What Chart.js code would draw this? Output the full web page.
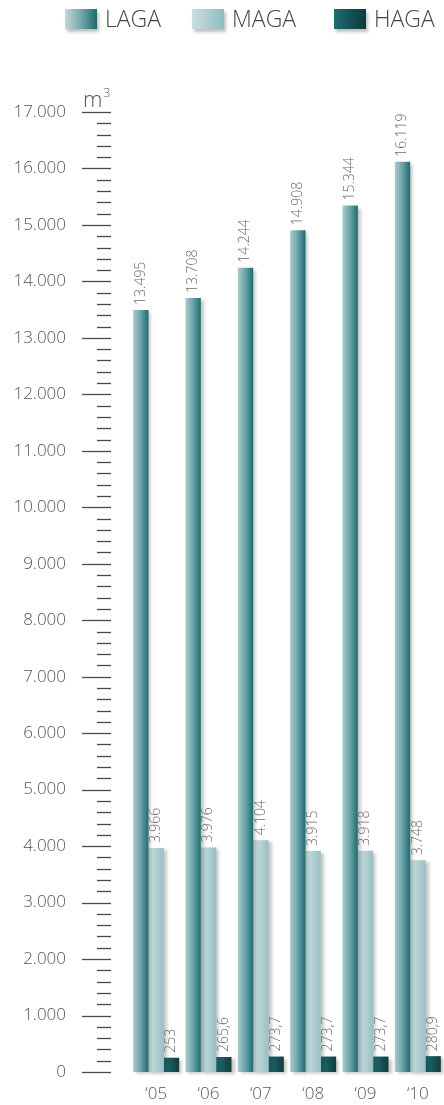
<!DOCTYPE html>
<html>

<head>
    <meta charset="utf-8">
    <title>LAGA MAGA HAGA</title>
    <style>
        body { margin: 0; background: #fff; }
        canvas { display: block; }
    </style>
</head>

<body>
    <canvas id="myChart1" width="444" height="1105"></canvas>
    <script src="https://cdn.jsdelivr.net/npm/chart.js@4.4.6/dist/chart.umd.min.js"></script>
    <script>
        const years = ["\u201805", "\u201806", "\u201807", "\u201808", "\u201809", "\u201810"]
        const laga = [13495, 13708, 14244, 14908, 15344, 16119]
        const maga = [3966, 3976, 4104, 3915, 3918, 3748]
        const haga = [253, 265.6, 273.7, 273.7, 273.7, 280.9]
        const seriesNames = ["LAGA", "MAGA", "HAGA"]
        const yMax = 17000
        const unitLabel = "m"

        document.addEventListener("DOMContentLoaded", () => {
            const FONT = "'Open Sans', 'DejaVu Sans', sans-serif"
            // gradient stops, left -> right
            const BAR_GRAD = [
                ["#a9cbcf", "#6aa3a8", "#1f6a6f"],
                ["#c9dee1", "#b3d0d3", "#97c0c4"],
                ["#1f7074", "#175559", "#113c3f"],
            ]
            const KEY_GRAD = [
                ["#c4d9dc", "#74a7ab", "#1d6a6e"],
                ["#cadee1", "#aecdd0", "#8fbcc1"],
                ["#1e6e72", "#175256", "#10393c"],
            ]

            function fmt(v) {
                const [i, d] = String(v).split(".")
                const s = i.replace(/\B(?=(\d{3})+(?!\d))/g, ".")
                return d ? s + "," + d : s
            }

            function hGrad(ctx, x0, x1, stops) {
                const g = ctx.createLinearGradient(x0, 0, x1, 0)
                stops.forEach((c, i) => g.addColorStop(i / (stops.length - 1), c))
                return g
            }

            // per bar gradient, worked out from the x scale
            function barFill(c) {
                const chart = c.chart
                const xs = chart.scales.x
                if (!chart.chartArea || !xs) return BAR_GRAD[c.datasetIndex][1]
                const catW = xs.width / years.length
                const groupW = catW * 0.879
                const barW = groupW / 3
                const left = xs.getPixelForValue(c.dataIndex) - groupW / 2 + c.datasetIndex * barW
                return hGrad(chart.ctx, left, left + barW, BAR_GRAD[c.datasetIndex])
            }

            const decor = {
                id: "decor",
                beforeDatasetsDraw(chart) {
                    const ctx = chart.ctx
                    ctx.save()
                    ctx.shadowColor = "rgba(0,0,0,0.22)"
                    ctx.shadowOffsetX = 3
                    ctx.shadowOffsetY = 2
                    ctx.shadowBlur = 3
                },
                afterDatasetsDraw(chart) {
                    const ctx = chart.ctx
                    ctx.restore()
                    // value labels, rotated
                    ctx.save()
                    ctx.fillStyle = "#6a6a6a"
                    ctx.font = "300 14px " + FONT
                    ctx.textAlign = "left"
                    ctx.textBaseline = "middle"
                    chart.data.datasets.forEach((ds, di) => {
                        chart.getDatasetMeta(di).data.forEach((el, i) => {
                            ctx.save()
                            ctx.translate(el.x, el.y - 5)
                            ctx.rotate(-Math.PI / 2)
                            ctx.fillText(fmt(ds.data[i]), 0, 0)
                            ctx.restore()
                        })
                    })
                    ctx.restore()
                },
                afterDraw(chart) {
                    const ctx = chart.ctx
                    const ys = chart.scales.y
                    const r = ys.right
                    ctx.save()
                    // tick marks
                    ctx.strokeStyle = "#4a4a4a"
                    ctx.lineWidth = 1.3
                    ys.ticks.forEach(t => {
                        const y = Math.round(ys.getPixelForValue(t.value)) + 0.5
                        const major = t.value % 1000 === 0
                        ctx.beginPath()
                        ctx.moveTo(r - (major ? 48 : 33), y)
                        ctx.lineTo(r - 19, y)
                        ctx.stroke()
                    })
                    // unit
                    const top = ys.getPixelForValue(yMax)
                    ctx.fillStyle = "#555"
                    ctx.textBaseline = "alphabetic"
                    ctx.textAlign = "left"
                    ctx.font = "300 22px " + FONT
                    ctx.fillText(unitLabel, r - 47, top - 5)
                    const mw = ctx.measureText(unitLabel).width
                    ctx.font = "300 12px " + FONT
                    ctx.fillText("3", r - 47 + mw + 1, top - 15)
                    // legend
                    const keyX = [65, 192, 334]
                    ctx.font = "300 23px " + FONT
                    seriesNames.forEach((name, i) => {
                        ctx.save()
                        ctx.shadowColor = "rgba(0,0,0,0.25)"
                        ctx.shadowOffsetX = 2
                        ctx.shadowOffsetY = 3
                        ctx.shadowBlur = 3
                        ctx.fillStyle = hGrad(ctx, keyX[i], keyX[i] + 32, KEY_GRAD[i])
                        ctx.fillRect(keyX[i], 9, 32, 20)
                        ctx.restore()
                        ctx.fillStyle = "#444"
                        ctx.fillText(name, keyX[i] + 40, 27)
                    })
                    ctx.restore()
                },
            }

            const config = {
                type: "bar",
                data: {
                    labels: years,
                    datasets: [laga, maga, haga].map((d, i) => ({
                        label: seriesNames[i],
                        data: d,
                        backgroundColor: barFill,
                        borderWidth: 0,
                        categoryPercentage: 0.879,
                        barPercentage: 1,
                        clip: false,
                    })),
                },
                options: {
                    responsive: false,
                    animation: false,
                    layout: { padding: { top: 112, right: 0, bottom: 0, left: 0 } },
                    plugins: {
                        legend: { display: false },
                        tooltip: { enabled: false },
                    },
                    scales: {
                        x: {
                            grid: { display: false, drawTicks: false },
                            border: { display: false },
                            ticks: {
                                color: "#555",
                                font: { family: FONT, size: 17, weight: "300" },
                                padding: 12,
                            },
                            afterFit: s => { s.height = 33 },
                        },
                        y: {
                            min: 0,
                            max: yMax,
                            // tick marks are drawn by the plugin; tickLength only spaces the labels
                            grid: { display: false, drawTicks: true, tickLength: 64 },
                            border: { display: false },
                            ticks: {
                                stepSize: 200,
                                autoSkip: false,
                                color: "#555",
                                font: { family: FONT, size: 17, weight: "300" },
                                padding: 0,
                                callback: v => v % 1000 === 0 ? fmt(v) : "",
                            },
                            afterFit: s => { s.width = 130 },
                        },
                    },
                },
                plugins: [decor],
            }
            new Chart(document.getElementById("myChart1"), config)
        })
    </script>
</body>

</html>
